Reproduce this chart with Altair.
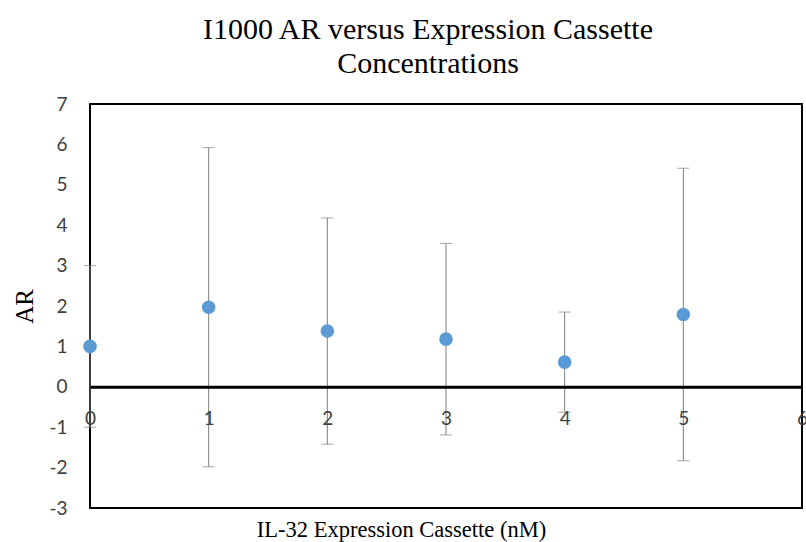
import altair as alt
import pandas as pd

conc = [0, 1, 2, 3, 4, 5]
ar = [1.0, 1.97, 1.38, 1.18, 0.61, 1.79]
err = [2.0, 3.95, 2.8, 2.37, 1.24, 3.62]
x_ticks = [0, 1, 2, 3, 4, 5, 6]
y_ticks = [-3, -2, -1, 0, 1, 2, 3, 4, 5, 6, 7]

df = pd.DataFrame({
    "conc": conc,
    "ar": ar,
    "lo": [a - e for a, e in zip(ar, err)],
    "hi": [a + e for a, e in zip(ar, err)],
})

xscale = alt.Scale(domain=[0, 6], nice=False, zero=False)
yscale = alt.Scale(domain=[-3, 7], nice=False, zero=False)

xaxis = alt.Axis(
    values=x_ticks, labelExpr="'' + datum.value", offset=-121.2, ticks=False, grid=False,
    domainColor="black", domainWidth=3, zindex=1,
    labelFont="Lato", labelFontSize=19, labelColor="#404040", labelPadding=23,
    labelFlush=False,
    title="IL-32 Expression Cassette (nM)", titleFont="Liberation Serif",
    titleFontSize=22.5, titleFontWeight="normal", titleColor="black",
    titleY=150, titleBaseline="alphabetic", titleX=311, titleAlign="center",
)
yaxis = alt.Axis(
    values=y_ticks, labelExpr="'' + datum.value", ticks=False, domain=False, grid=False,
    labelFont="Lato", labelFontSize=19, labelColor="#404040", labelPadding=23,
    title="AR", titleFont="Liberation Serif", titleFontSize=25,
    titleFontWeight="normal", titleColor="black",
    titleX=-66, titleBaseline="middle",
)

X = alt.X("conc:Q", scale=xscale, axis=xaxis)

base = alt.Chart(df)
rules = base.mark_rule(color="#7F7F7F", strokeWidth=1).encode(
    x=X, y=alt.Y("lo:Q", scale=yscale, axis=yaxis), y2="hi:Q")
cap_lo = base.mark_tick(color="#7F7F7F", size=12, thickness=1, orient="horizontal").encode(
    x=X, y=alt.Y("lo:Q", scale=yscale, axis=yaxis))
cap_hi = base.mark_tick(color="#7F7F7F", size=12, thickness=1, orient="horizontal").encode(
    x=X, y=alt.Y("hi:Q", scale=yscale, axis=yaxis))
pts = base.mark_circle(color="#5B9BD5", opacity=1, size=185).encode(
    x=X, y=alt.Y("ar:Q", scale=yscale, axis=yaxis))

chart = alt.layer(rules, cap_lo, cap_hi, pts).properties(
    width=712, height=404,
    autosize=alt.AutoSizeParams(type="none"),
    padding={"left": 90, "top": 104, "right": 4, "bottom": 34},
    title=alt.TitleParams(
        ["I1000 AR versus Expression Cassette", "Concentrations"],
        font="Liberation Serif", fontSize=30, fontWeight="normal", color="black",
        anchor="middle", dx=-18, offset=16, lineHeight=34,
    ),
).configure(background="white").configure_view(stroke="black", strokeWidth=2)

chart.save("out.html", embed_options={"renderer": "svg", "actions": False})
